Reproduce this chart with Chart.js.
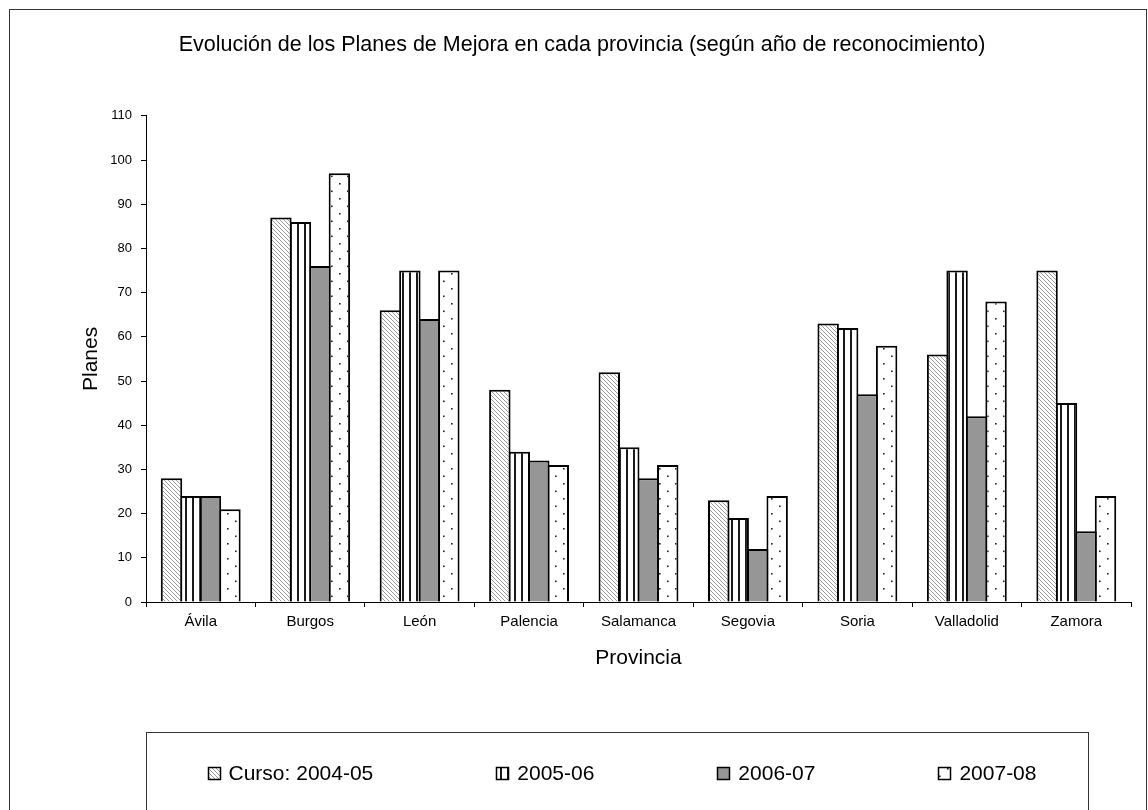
<!DOCTYPE html>
<html lang="es">
<head>
<meta charset="utf-8">
<title>Planes de Mejora por provincia</title>
<script src="https://cdn.jsdelivr.net/npm/chart.js@4.4.1/dist/chart.umd.min.js"></script>
<style>
  html, body { margin: 0; padding: 0; background: #fff; }
  #wrap { width: 1148px; height: 810px; }
</style>
</head>
<body>
<div id="wrap"><canvas id="chart" width="1148" height="810"></canvas></div>
<script>
// planes reconocidos por provincia y curso
const provincias = ['Ávila', 'Burgos', 'León', 'Palencia', 'Salamanca', 'Segovia', 'Soria', 'Valladolid', 'Zamora'];
const cursos = ['Curso: 2004-05', '2005-06', '2006-07', '2007-08'];
const planes0405 = [28, 87, 66, 48, 52, 23, 63, 56, 75];
const planes0506 = [24, 86, 75, 34, 35, 19, 62, 75, 45];
const planes0607 = [24, 76, 64, 32, 28, 12, 47, 42, 16];
const planes0708 = [21, 97, 75, 31, 31, 24, 58, 68, 24];
const ejeYMin = 0;
const ejeYMax = 110;
const ejeYPaso = 10;

const canvas = document.getElementById('chart');
const ctx = canvas.getContext('2d');

Chart.defaults.font.family = '"Liberation Sans", Arial, sans-serif';
Chart.defaults.color = '#000';

// rellenos tipo Excel (trama diagonal, rayas verticales, gris, puntos)
function trama(w, h, pintar) {
  const c = document.createElement('canvas');
  c.width = w; c.height = h;
  const g = c.getContext('2d');
  g.fillStyle = '#fff';
  g.fillRect(0, 0, w, h);
  pintar(g, w, h);
  return ctx.createPattern(c, 'repeat');
}

const diagonal = trama(4, 4, (g, w, h) => {
  g.strokeStyle = '#999';
  g.lineWidth = 1;
  g.beginPath();
  g.moveTo(0, 0); g.lineTo(w, h);
  g.moveTo(-1, h - 1); g.lineTo(1, h + 1);
  g.moveTo(w - 1, -1); g.lineTo(w + 1, 1);
  g.stroke();
});
const rayas = trama(7, 4, (g) => {
  g.fillStyle = '#1a1a1a';
  g.fillRect(3, 0, 2, 4);
});
const gris = '#969696';
const puntos = trama(16, 15, (g) => {
  g.fillStyle = '#222';
  g.fillRect(3, 3, 1.6, 1.6);
  g.fillRect(11, 10.5, 1.6, 1.6);
});
const rellenos = [diagonal, rayas, gris, puntos];
const series = [planes0405, planes0506, planes0607, planes0708];

// marco exterior y leyenda enmarcada
const marcoYLeyenda = {
  id: 'marcoYLeyenda',
  beforeDraw(chart) {
    const c = chart.ctx;
    c.save();
    c.fillStyle = '#fff';
    c.fillRect(0, 0, chart.width, chart.height);
    c.restore();
  },
  afterDraw(chart) {
    const c = chart.ctx;
    c.save();
    c.strokeStyle = '#333';
    c.lineWidth = 1;
    c.strokeRect(9.5, 9.5, 1137, 830);
    c.strokeRect(146.5, 732.5, 942, 120);

    c.font = '21px "Liberation Sans", Arial, sans-serif';
    c.textBaseline = 'middle';
    const caja = 12, hueco = 9, sep = 123, yc = 773;
    const items = chart.data.datasets.map(d => ({
      d, ancho: caja + hueco + c.measureText(d.label).width
    }));
    const total = items.reduce((s, it) => s + it.ancho, 0) + sep * (items.length - 1);
    let x = 622 - total / 2;
    items.forEach(it => {
      const bx = Math.round(x) + 0.5, by = Math.round(yc - caja / 2) + 0.5;
      c.fillStyle = it.d.backgroundColor;
      c.fillRect(bx, by, caja, caja);
      c.strokeStyle = '#000';
      c.lineWidth = 1.5;
      c.strokeRect(bx, by, caja, caja);
      c.fillStyle = '#000';
      c.fillText(it.d.label, x + caja + hueco, yc + 1);
      x += it.ancho + sep;
    });
    c.restore();
  }
};

new Chart(ctx, {
  type: 'bar',
  data: {
    labels: provincias,
    datasets: cursos.map((curso, i) => ({
      label: curso,
      data: series[i],
      backgroundColor: rellenos[i],
      borderColor: '#000',
      borderWidth: 2,
      borderSkipped: 'start'
    }))
  },
  options: {
    responsive: false,
    animation: false,
    datasets: {
      bar: { categoryPercentage: 0.712, barPercentage: 1.1 }
    },
    layout: {
      padding: { top: 9, left: 33, right: 17, bottom: 139 }
    },
    plugins: {
      legend: { display: false },
      tooltip: { enabled: false },
      title: {
        display: true,
        text: 'Evolución de los Planes de Mejora en cada provincia (según año de reconocimiento)',
        color: '#000',
        font: { size: 21.5, weight: 'normal' },
        padding: { top: 23, bottom: 58 }
      }
    },
    scales: {
      x: {
        ticks: { color: '#000', font: { size: 15 }, padding: 6, maxRotation: 0 },
        grid: { drawOnChartArea: false, tickLength: 5, color: '#000', offset: true },
        border: { color: '#000', width: 1 },
        title: {
          display: true, text: 'Provincia', color: '#000',
          font: { size: 21 }, padding: { top: 0, bottom: 0 }
        },
        afterFit: s => { s.height = 69; }
      },
      y: {
        min: ejeYMin,
        max: ejeYMax,
        ticks: { stepSize: ejeYPaso, color: '#000', font: { size: 13 }, padding: 9 },
        grid: { drawOnChartArea: false, tickLength: 5, color: '#000' },
        border: { color: '#000', width: 1 },
        title: {
          display: true, text: 'Planes', color: '#000',
          font: { size: 21 }, padding: { top: 46, bottom: 0 }
        },
        afterFit: s => { s.width = 113; }
      }
    }
  },
  plugins: [marcoYLeyenda]
});
</script>
</body>
</html>
